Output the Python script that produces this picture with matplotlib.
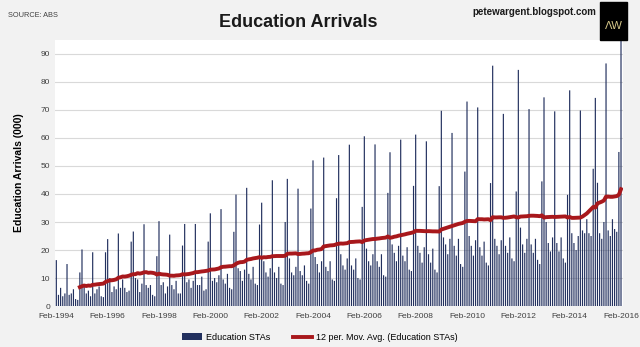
import numpy as np
import pandas as pd
import matplotlib
matplotlib.use('Agg')
import matplotlib.pyplot as plt
from matplotlib.patches import Rectangle

plt.rcParams['font.family'] = ['Liberation Sans', 'DejaVu Sans']

# education short-term arrivals ('000), one list per calendar year (1994 starts in Feb)
sta_1994 = [16.4, 4.0, 6.5, 3.5, 4.5, 15.0, 4.0, 4.5, 6.0, 2.5, 2.2]
sta_1995 = [12.0, 20.2, 7.0, 4.5, 5.5, 3.5, 19.2, 4.5, 6.0, 7.0, 3.5, 3.2]
sta_1996 = [19.2, 23.9, 10.0, 5.0, 7.0, 6.0, 25.9, 6.5, 9.5, 6.5, 5.0, 5.5]
sta_1997 = [23.0, 26.6, 10.0, 9.5, 5.0, 8.0, 29.2, 7.5, 6.5, 7.5, 4.0, 3.5]
sta_1998 = [17.8, 30.3, 7.5, 8.5, 4.5, 7.0, 25.5, 7.5, 6.0, 9.0, 4.5, 4.5]
sta_1999 = [21.6, 29.3, 8.5, 9.5, 6.5, 9.0, 29.3, 7.5, 7.5, 10.5, 5.5, 6.0]
sta_2000 = [23.0, 33.1, 9.0, 10.0, 8.5, 11.0, 34.6, 9.5, 8.0, 11.5, 6.5, 6.0]
sta_2001 = [26.5, 39.8, 13.5, 12.5, 9.0, 13.0, 42.2, 11.5, 9.5, 14.0, 8.0, 7.5]
sta_2002 = [29.1, 36.9, 16.0, 12.0, 10.5, 13.5, 44.9, 12.0, 10.0, 14.0, 8.0, 7.5]
sta_2003 = [30.0, 45.4, 17.0, 12.0, 11.0, 14.0, 41.9, 12.5, 11.0, 14.5, 9.0, 8.0]
sta_2004 = [34.8, 52.0, 17.5, 15.0, 12.0, 16.0, 53.0, 14.0, 12.5, 16.0, 9.5, 9.0]
sta_2005 = [38.5, 53.9, 18.5, 14.5, 13.0, 17.0, 57.6, 14.5, 13.0, 17.0, 10.0, 9.5]
sta_2006 = [35.4, 60.6, 20.5, 16.0, 14.5, 18.5, 57.7, 16.0, 14.0, 18.5, 11.0, 10.5]
sta_2007 = [40.4, 54.9, 22.0, 19.0, 16.0, 21.5, 59.4, 18.0, 16.0, 21.0, 13.0, 12.5]
sta_2008 = [42.9, 61.2, 21.5, 19.0, 15.5, 21.0, 58.8, 18.5, 15.5, 20.5, 13.0, 12.0]
sta_2009 = [42.8, 69.7, 24.5, 22.0, 18.5, 24.0, 61.8, 21.5, 18.0, 24.0, 15.0, 14.0]
sta_2010 = [48.0, 73.0, 25.0, 21.5, 18.0, 23.5, 70.9, 21.0, 18.0, 23.0, 15.5, 14.5]
sta_2011 = [43.9, 85.8, 24.0, 21.5, 18.5, 23.5, 68.6, 21.5, 19.0, 24.5, 17.0, 16.0]
sta_2012 = [40.9, 84.3, 28.0, 22.0, 19.0, 24.0, 70.3, 22.0, 19.0, 24.0, 16.5, 15.0]
sta_2013 = [44.5, 74.5, 30.0, 22.5, 19.5, 24.5, 69.5, 22.5, 19.5, 24.5, 17.0, 15.5]
sta_2014 = [39.7, 77.0, 26.0, 22.5, 20.0, 25.0, 69.8, 27.0, 26.0, 31.0, 26.0, 25.0]
sta_2015 = [49.0, 74.3, 44.0, 26.0, 24.0, 30.0, 86.6, 27.0, 25.0, 31.0, 27.5, 26.5]
sta_2016 = [55.0, 98.0]

sta = np.concatenate([sta_1994, sta_1995, sta_1996, sta_1997, sta_1998, sta_1999,
                      sta_2000, sta_2001, sta_2002, sta_2003, sta_2004, sta_2005,
                      sta_2006, sta_2007, sta_2008, sta_2009, sta_2010, sta_2011,
                      sta_2012, sta_2013, sta_2014, sta_2015, sta_2016])
months = pd.date_range('1994-02-01', periods=len(sta), freq='MS')
mov_avg = pd.Series(sta).rolling(12).mean()

fig = plt.figure(figsize=(6.4, 3.47), dpi=100, facecolor='#f2f2f2')
ax = fig.add_axes([0.086, 0.118, 0.888, 0.767])
ax.set_facecolor('white')

x = np.arange(len(sta))
bars = ax.bar(x, sta, width=0.55, color='#22305e', zorder=2, snap=False, linewidth=0)
line, = ax.plot(x, mov_avg, color='#a8181c', lw=2.8, zorder=3)

ax.set_ylim(0, 95)
ax.set_yticks(range(0, 100, 10))
ax.set_xlim(-0.6, len(sta) + 0.1)
ticks = x[::24]
ax.set_xticks(ticks)
ax.set_xticklabels([months[i].strftime('%b-%Y') for i in ticks])
ax.grid(axis='y', color='#d9d9d9', lw=0.8, zorder=0)
ax.set_axisbelow(True)
for s in ax.spines.values():
    s.set_visible(False)
ax.tick_params(length=0, labelsize=6, colors='#404040')
ax.tick_params(axis='x', pad=5)
ax.set_ylabel('Education Arrivals (000)', fontsize=7.5, fontweight='bold', labelpad=12)

fig.text(0.466, 0.935, 'Education Arrivals', ha='center', va='center',
         fontsize=13, fontweight='bold', color='#1a1a1a')
fig.text(0.013, 0.955, 'SOURCE: ABS', fontsize=5.3, color='#404040', va='center')
fig.text(0.931, 0.966, 'petewargent.blogspot.com', fontsize=7, fontweight='bold',
         ha='right', va='center', color='#1a1a1a')
fig.patches.append(Rectangle((0.938, 0.885), 0.042, 0.11, transform=fig.transFigure,
                             color='black', zorder=5))
fig.text(0.959, 0.925, '\u039bW', fontsize=8, ha='center', va='center',
         color='#d8c98a', zorder=6)

fig.legend([bars, line], ['Education STAs', '12 per. Mov. Avg. (Education STAs)'],
           loc='center', bbox_to_anchor=(0.5, 0.028), ncol=2, frameon=False,
           fontsize=6.5, handlelength=2.2, columnspacing=2.5, handletextpad=0.4)

fig.savefig('out.png', dpi=100, facecolor=fig.get_facecolor())
